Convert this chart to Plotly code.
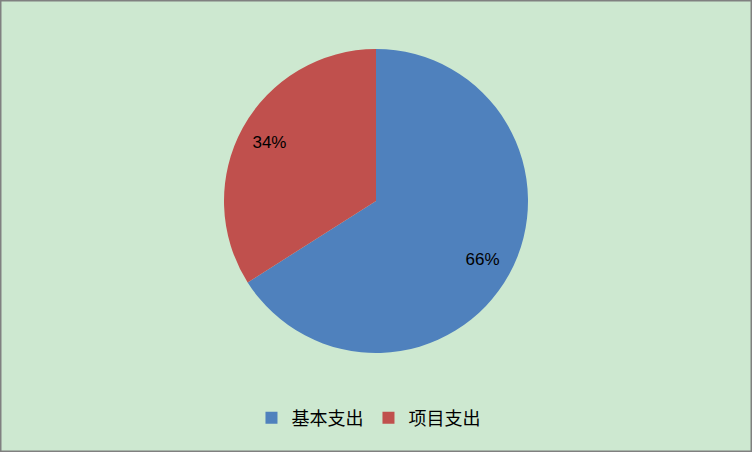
import plotly.graph_objects as go

# 支出结构
categories = ['基本支出', '项目支出']
shares = [66, 34]
colors = ['#4f81bd', '#c0504d']

pie_domain = dict(x=[224 / 752, 528 / 752], y=[1 - 353 / 452, 1 - 49 / 452])

fig = go.Figure()
fig.add_trace(go.Pie(
    labels=categories,
    values=shares,
    sort=False,
    direction='clockwise',
    rotation=0,
    marker=dict(colors=colors, line=dict(width=0)),
    textinfo='none',
    hoverinfo='label+percent',
    domain=pie_domain,
))
# transparent ring on top only to carry the percent labels further out
fig.add_trace(go.Pie(
    labels=categories,
    values=shares,
    sort=False,
    direction='clockwise',
    rotation=0,
    hole=0.6,
    marker=dict(colors=['rgba(0,0,0,0)'] * 2, line=dict(width=0)),
    texttemplate='%{percent:.0%}',
    textposition='inside',
    insidetextorientation='horizontal',
    textfont=dict(color='black', size=17, family='Liberation Sans, Arial'),
    hoverinfo='skip',
    showlegend=False,
    domain=pie_domain,
))

fig.update_layout(
    width=752, height=452,
    margin=dict(l=0, r=0, t=0, b=0),
    paper_bgcolor='#cde8d0',
    plot_bgcolor='#cde8d0',
    font=dict(family='Noto Sans CJK SC', color='black'),
    showlegend=True,
    legend=dict(
        orientation='h', x=0.49, xanchor='center', y=1 - 418 / 452, yanchor='middle',
        font=dict(size=18, family='Noto Sans CJK SC', color='black'),
    ),
    shapes=[dict(type='rect', xref='paper', yref='paper', x0=0, y0=0, x1=1, y1=1,
                 line=dict(color='#808080', width=3))],
)

fig.write_html("out.html", config={'displayModeBar': False},
               post_script="document.body.style.margin='0';")
